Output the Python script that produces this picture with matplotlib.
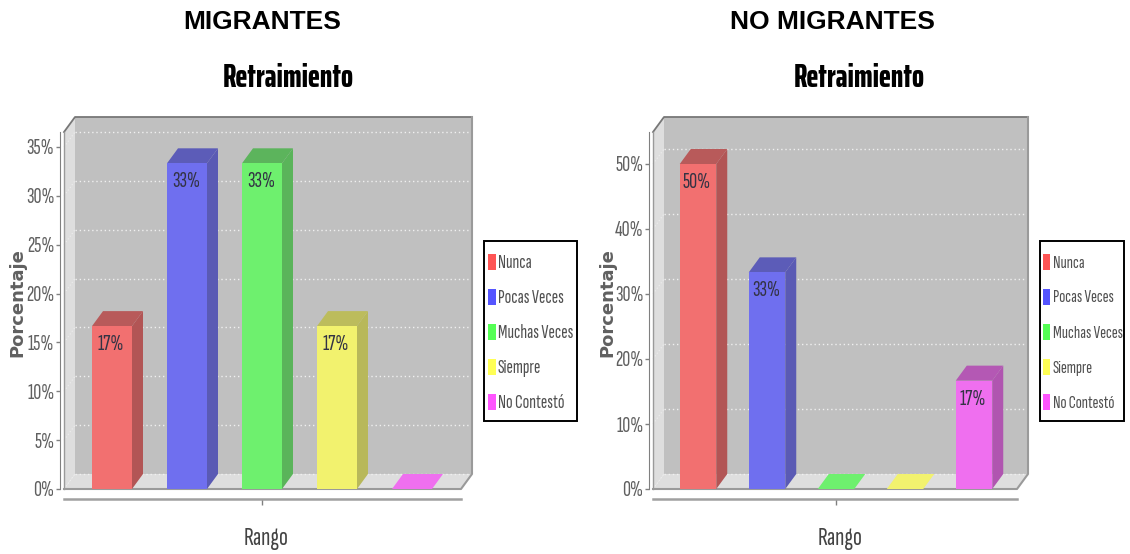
import matplotlib
matplotlib.use('Agg')
import matplotlib.pyplot as plt
from matplotlib.patches import Polygon, Rectangle

categories = ['Nunca', 'Pocas Veces', 'Muchas Veces', 'Siempre', 'No Contestó']
migrantes = [16.67, 33.33, 33.33, 16.67, 0]
no_migrantes = [50, 33.33, 0, 0, 16.67]
ticks_mig = [0, 5, 10, 15, 20, 25, 30, 35]
ticks_nomig = [0, 10, 20, 30, 40, 50]

front_colors = ['#f27070', '#6f6fef', '#6ef06e', '#f2f26e', '#ef6fef']
side_colors = ['#b25555', '#5a5ab4', '#5ab45a', '#b8b85a', '#b055b0']
top_colors = ['#b85a5a', '#5c5cb8', '#5cb45c', '#bcbc5c', '#b458b4']
legend_colors = ['#ff5555', '#5555ff', '#55ff55', '#ffff55', '#ff55ff']

W, H = 1130, 554
# condensed faces first, plain sans if they are missing
NARROW = ['Sofia Sans Extra Condensed', 'Liberation Sans']
HEAVY = ['Saira ExtraCondensed', 'Liberation Sans']
DEPTH_X, DEPTH_Y = 11, 15
BOTTOM, TOP = 489, 132


def legend(box_x0, box_x1, swatch_w, text_x, size):
    fig.add_artist(Rectangle((box_x0 / W, 1 - 421 / H), (box_x1 - box_x0) / W, 180 / H, transform=fig.transFigure,
                             fc='white', ec='black', lw=1.4))
    for i, name in enumerate(categories):
        yc = 263 + 35 * i
        fig.add_artist(Rectangle(((box_x0 + 3.5) / W, 1 - (yc - 1 + 8) / H), swatch_w / W, 16 / H,
                                 transform=fig.transFigure, fc=legend_colors[i], ec='none'))
        fig.text(text_x / W, 1 - yc / H, name, ha='left', va='center', family=NARROW, fontsize=size, color='#505050')


def panel(x0, x1, first, step, width, values, ticks, per_unit, heading, heading_x, title_x, rango_x, pct_x):
    ax = fig.add_axes([x0 / W, 1 - BOTTOM / H, (x1 - x0) / W, (BOTTOM - TOP) / H])
    ax.set_xlim((x0 - first) / step, (x1 - first) / step)
    ax.set_ylim(0, (BOTTOM - TOP) / per_unit)
    ax.patch.set_visible(False)
    for s in ax.spines.values():
        s.set_visible(False)
    xl, xr = ax.get_xlim()
    ymax = ax.get_ylim()[1]
    dx, dy = DEPTH_X / step, DEPTH_Y / per_unit
    bw = width / step

    # walls and floor
    ax.add_patch(Polygon([(xl + dx, dy), (xr + dx, dy), (xr + dx, ymax + dy), (xl + dx, ymax + dy)],
                         fc='#c0c0c0', ec='none', clip_on=False, zorder=0))
    ax.add_patch(Polygon([(xl, 0), (xl + dx, dy), (xl + dx, ymax + dy), (xl, ymax)],
                         fc='#dedede', ec='none', clip_on=False, zorder=0))
    ax.add_patch(Polygon([(xl, 0), (xr, 0), (xr + dx, dy), (xl + dx, dy)],
                         fc='#dedede', ec='none', clip_on=False, zorder=0))
    for t in ticks:
        ax.plot([xl + dx, xr + dx], [t + dy, t + dy], color='#f0f0f0', lw=1, ls=(0, (1, 2)),
                clip_on=False, zorder=1)
        ax.plot([xl, xl + dx], [t, t + dy], color='#eeeeee', lw=0.8, ls=(0, (1, 2)),
                clip_on=False, zorder=1)
    ax.plot([xl, xl + dx, xr + dx], [ymax, ymax + dy, ymax + dy], color='#777777', lw=1.3,
            clip_on=False, zorder=1)
    ax.plot([xr + dx, xr + dx, xr, xl], [ymax + dy, dy, 0, 0], color='#9a9a9a', lw=1.5,
            clip_on=False, zorder=1)
    ax.plot([xl, xl], [0, ymax], color='#9a9a9a', lw=1, clip_on=False, zorder=1)

    # bars
    xs = list(range(len(values)))
    for i, v in zip(xs, values):
        l, r = i - bw / 2, i + bw / 2
        ax.add_patch(Polygon([(r, 0), (r + dx, dy), (r + dx, v + dy), (r, v)],
                             fc=side_colors[i], ec='none', clip_on=False, zorder=2))
        ax.add_patch(Polygon([(l, v), (r, v), (r + dx, v + dy), (l + dx, v + dy)],
                             fc=front_colors[i] if v == 0 else top_colors[i], ec='none', clip_on=False, zorder=2))
    ax.bar(xs, values, width=bw, color=front_colors, zorder=3)
    for i, v in zip(xs, values):
        if v > 0:
            ax.annotate(f'{v:.0f}%', (i, v), xytext=(-1, -9), textcoords='offset pixels', ha='center', va='top',
                        fontsize=16, family=NARROW, color='#333344', zorder=4)

    # y axis set off to the left of the wall, x axis below the floor
    ax.set_yticks(ticks)
    ax.set_yticklabels([f'{t}%' for t in ticks])
    ax.tick_params(axis='y', length=3, width=1, color='#808080', pad=1, labelsize=16,
                   labelcolor='#606060', labelfontfamily='Sofia Sans Extra Condensed')
    ax.spines['left'].set_visible(True)
    ax.spines['left'].set_position(('outward', 3))
    ax.spines['left'].set_color('#808080')
    ax.set_xticks([2])
    ax.set_xticklabels([''])
    ax.tick_params(axis='x', length=4, width=1, color='#808080')
    ax.spines['bottom'].set_visible(True)
    ax.spines['bottom'].set_position(('outward', 7))
    ax.spines['bottom'].set_color('#a0a0a0')
    ax.spines['bottom'].set_linewidth(1.8)

    fig.text(rango_x / W, 1 - 538 / H, 'Rango', ha='center', va='center', family=NARROW, fontsize=19, color='#444444')
    fig.text(pct_x / W, 1 - 303 / H, 'Porcentaje', ha='center', va='center', rotation=90,
             fontsize=13, fontweight='bold', color='#606060', family='DejaVu Sans')
    fig.text(title_x / W, 1 - 78 / H, 'Retraimiento', ha='center', va='center', family=HEAVY,
             fontsize=23, fontweight=800, color='black')
    fig.text(heading_x / W, 1 - 22 / H, heading, ha='center', va='center', family='Liberation Sans',
             fontsize=19, fontweight='bold', color='black')


fig = plt.figure(figsize=(W / 100, H / 100), dpi=100)
panel(64, 461, 112, 75, 40, migrantes, ticks_mig, 342 / 35, 'MIGRANTES', 262, 288, 266, 17)
panel(653, 1017, 698, 69, 36.5, no_migrantes, ticks_nomig, 6.5, 'NO MIGRANTES', 832, 859, 840, 607)
legend(484, 576.5, 8, 498, 14)
legend(1039.5, 1124, 6.5, 1053, 13)
plt.savefig('out.png', dpi=100)
